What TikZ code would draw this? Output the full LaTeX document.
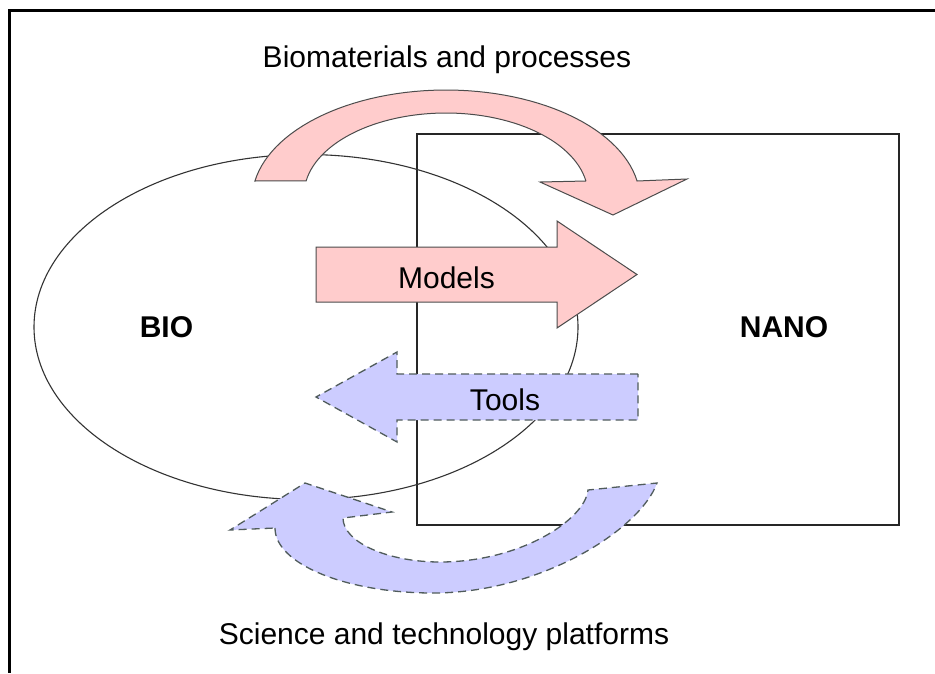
\documentclass[tikz,border=0pt]{standalone}
\usepackage{fontspec}
\setmainfont{Liberation Sans}
\definecolor{pinkfill}{RGB}{255,204,204}
\definecolor{lavfill}{RGB}{204,204,255}
\definecolor{dashgray}{RGB}{80,92,92}
\begin{document}
\begin{tikzpicture}[x=1pt,y=-1pt,
  lbl/.style={font=\fontsize{30}{36}\selectfont, inner sep=0pt, anchor=base},
  boldlbl/.style={lbl, font=\fontsize{30}{36}\selectfont\bfseries},
  frameline/.style={line width=3pt, draw=black},
  pinkarrow/.style={fill=pinkfill, draw=black!70, line width=1pt, line join=miter},
  lavarrow/.style={fill=lavfill, draw=dashgray, line width=1.3pt, dash pattern=on 8pt off 5pt, line join=miter}]

% canvas
\useasboundingbox (0,0) rectangle (935,673);
\fill[white] (0,0) rectangle (935,673);

% frame (top and left edges)
\draw[frameline] (8,10.5) -- (935,10.5);
\draw[frameline] (9.5,9) -- (9.5,673);

% NANO domain and BIO domain
\draw[line width=1.6pt, draw=black!85] (417,134) rectangle (899,525);
\draw[line width=1.1pt, draw=black!80] (306,327) ellipse [x radius=272, y radius=172.5];

% Biomaterials and processes: curved arrow from BIO over to NANO
\draw[pinkarrow]
  plot[domain=189.95:350.05, samples=60, variable=\t] ({446+194*cos(\t)},{200+110*sin(\t)})
  -- (687,179) -- (613,215) -- (540,182) -- (586,181)
  -- plot[domain=0:1, samples=60, variable=\t] ({446+142*cos(350.17-160.34*\t)},{195+82*sin(350.17-160.34*\t)})
  -- cycle;

% Models: straight arrow BIO -> NANO
\draw[pinkarrow] (316,247) -- (557,247) -- (557,221) -- (637,274.5)
  -- (557,328) -- (557,302) -- (316,302) -- cycle;

% Tools: straight arrow NANO -> BIO
\draw[lavarrow] (638,374) -- (397,374) -- (397,352) -- (316,397)
  -- (397,442) -- (397,420) -- (638,420) -- cycle;

% Science and technology platforms: curved arrow from NANO back under to BIO
\draw[lavarrow] (275,528) .. controls (275,564) and (346,593) .. (433,593)
  .. controls (540,593) and (640,530) .. (657,483)
  -- (588,490)
  .. controls (585,520) and (520,562) .. (440,562)
  .. controls (387,562) and (343,542) .. (343,518)
  -- (392,512) -- (305,483) -- (230,530) -- cycle;

% labels
\node[lbl] (biomat) at (447,67) {Biomaterials and processes};
\node[lbl] (platforms) at (444,644) {Science and technology platforms};
\node[lbl] (models) at (446.5,288) {Models};
\node[lbl] (tools) at (505,410) {Tools};
\node[boldlbl] (bio) at (166.5,337) {BIO};
\node[boldlbl] (nano) at (784,337) {NANO};
\end{tikzpicture}
\end{document}
